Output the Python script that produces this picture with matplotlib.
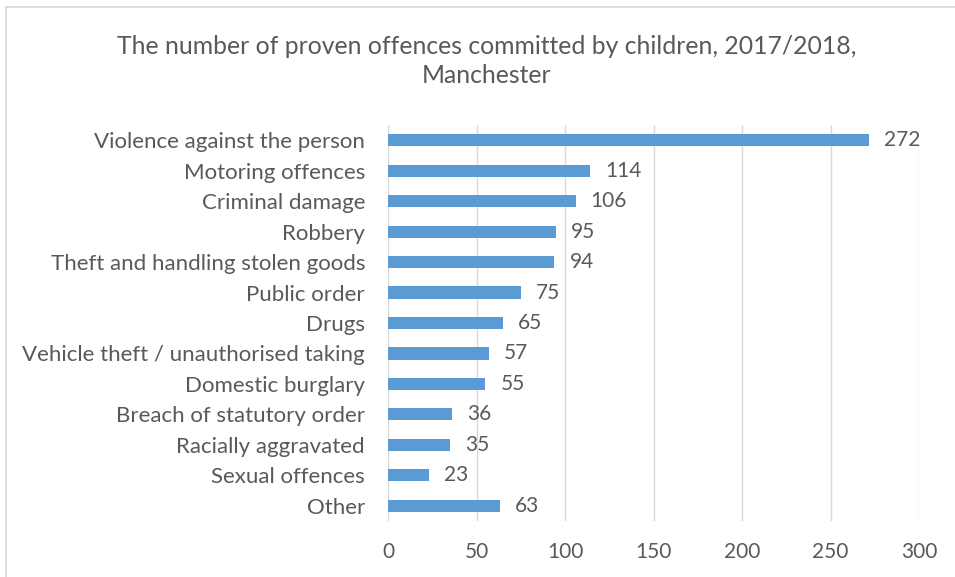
import matplotlib
matplotlib.use("Agg")
import matplotlib.pyplot as plt
from matplotlib.patches import Rectangle

categories = ["Violence against the person", "Motoring offences", "Criminal damage", "Robbery",
              "Theft and handling stolen goods", "Public order", "Drugs",
              "Vehicle theft / unauthorised taking", "Domestic burglary",
              "Breach of statutory order", "Racially aggravated", "Sexual offences", "Other"]
values = [272, 114, 106, 95, 94, 75, 65, 57, 55, 36, 35, 23, 63]
xticks = [0, 50, 100, 150, 200, 250, 300]
title = "The number of proven offences committed by children, 2017/2018,\nManchester"

plt.rcParams['font.family'] = ['Lato', 'DejaVu Sans']
txt = '#595959'

fig = plt.figure(figsize=(9.55, 5.77), dpi=100)
fig.patches.append(Rectangle((6/955, -0.1), 1.2, 1 - 7/577 + 0.1, transform=fig.transFigure,
                             fill=False, edgecolor='#d9d9d9', linewidth=1.3))
ax = fig.add_axes([388/955, 1 - 521/577, (919 - 388)/955, (521 - 125)/577])

y = list(range(len(categories)))
ax.barh(y, values, height=0.4, color='#5b9bd5', zorder=3)
for yi, v in zip(y, values):
    ax.text(v + 8.5, yi, str(v), va='center', ha='left', fontsize=15, color=txt)

ax.set_ylim(len(categories) - 0.5, -0.5)
ax.set_xlim(0, 300)
ax.set_xticks(xticks)
ax.set_xticklabels([str(t) for t in xticks])
ax.set_yticks(y)
ax.set_yticklabels(categories)
ax.tick_params(axis='x', length=0, labelsize=15, labelcolor=txt, pad=15)
ax.tick_params(axis='y', length=0, labelsize=16, labelcolor=txt, pad=16.5)
ax.grid(axis='x', color='#d9d9d9', linewidth=1.0, zorder=0)
for s in ax.spines.values():
    s.set_visible(False)

fig.text(487/955, 1 - 61/577, title, ha='center', va='center', fontsize=17.8, color=txt,
         linespacing=1.35)

fig.savefig("out.png", dpi=100)
